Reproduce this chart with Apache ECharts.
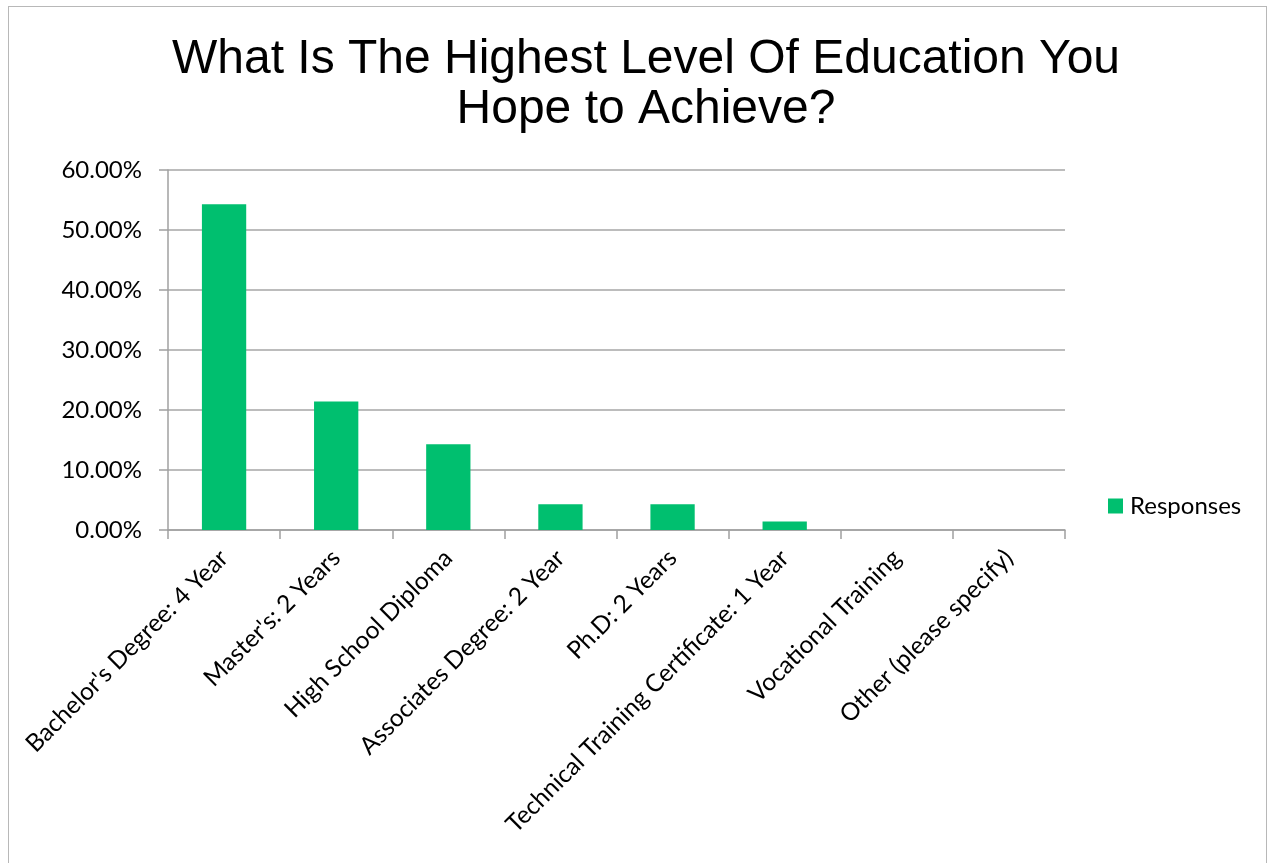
<!DOCTYPE html>
<html>
<head>
<meta charset="utf-8">
<script src="https://cdn.jsdelivr.net/npm/echarts@6/dist/echarts.min.js"></script>
<style>
html,body{margin:0;padding:0;background:#fff;}
#frame{position:absolute;left:8px;top:6px;width:1259px;height:900px;border:1.5px solid #b8b8b8;box-sizing:border-box;}
#chart{position:absolute;left:0;top:0;width:1270px;height:863px;}
</style>
</head>
<body>
<div id="frame"></div>
<div id="chart"></div>
<script>
const titleLines = ['What Is The Highest Level Of Education You', 'Hope to Achieve?'];
const categories = ["Bachelor's Degree: 4 Year", "Master's: 2 Years", "High School Diploma", "Associates Degree: 2 Year", "Ph.D: 2 Years", "Technical Training Certificate: 1 Year", "Vocational Training", "Other (please specify)"];
const responses = [54.29, 21.43, 14.29, 4.29, 4.29, 1.43, 0, 0];
const seriesName = 'Responses';
const yMin = 0, yMax = 60, yStep = 10;

const chart = echarts.init(document.getElementById('chart'), null, {renderer: 'canvas'});
const labelFont = 'Lato, "Open Sans", sans-serif';
chart.setOption({
  animation: false,
  backgroundColor: 'transparent',
  title: {
    text: titleLines.join('\n'),
    left: 641, top: 30, textAlign: 'center',
    textStyle: {fontFamily: '"Liberation Sans", Arial, sans-serif', fontSize: 48, fontWeight: 'normal', color: '#000', lineHeight: 50}
  },
  legend: {
    data: [seriesName],
    orient: 'vertical',
    left: 1103, top: 489,
    itemWidth: 15, itemHeight: 15, itemGap: 10,
    icon: 'rect',
    textStyle: {fontFamily: labelFont, fontSize: 24, color: '#000', padding: [0,0,0,2]}
  },
  grid: {left: 168, right: 205, top: 170, bottom: 333, containLabel: false},
  xAxis: {
    type: 'category',
    data: categories,
    axisLine: {show: true, lineStyle: {color: '#a0a0a0', width: 1.5}},
    axisTick: {show: true, length: 9, inside: false, lineStyle: {color: '#a0a0a0', width: 1.5}},
    axisLabel: {rotate: 45, interval: 0, margin: 24, fontFamily: labelFont, fontSize: 24.5, color: '#000'}
  },
  yAxis: {
    type: 'value',
    min: yMin, max: yMax, interval: yStep,
    axisLine: {show: true, lineStyle: {color: '#a0a0a0', width: 1.5}},
    axisTick: {show: true, length: 9, lineStyle: {color: '#a0a0a0', width: 1.5}},
    splitLine: {show: true, lineStyle: {color: '#a6a6a6', width: 1.5}},
    axisLabel: {margin: 26, fontFamily: labelFont, fontSize: 24, color: '#000', formatter: v => v.toFixed(2) + '%'}
  },
  series: [{
    name: seriesName,
    type: 'bar',
    data: responses,
    barWidth: '39.5%',
    itemStyle: {color: '#00BF6F'}
  }]
});
</script>
</body>
</html>
